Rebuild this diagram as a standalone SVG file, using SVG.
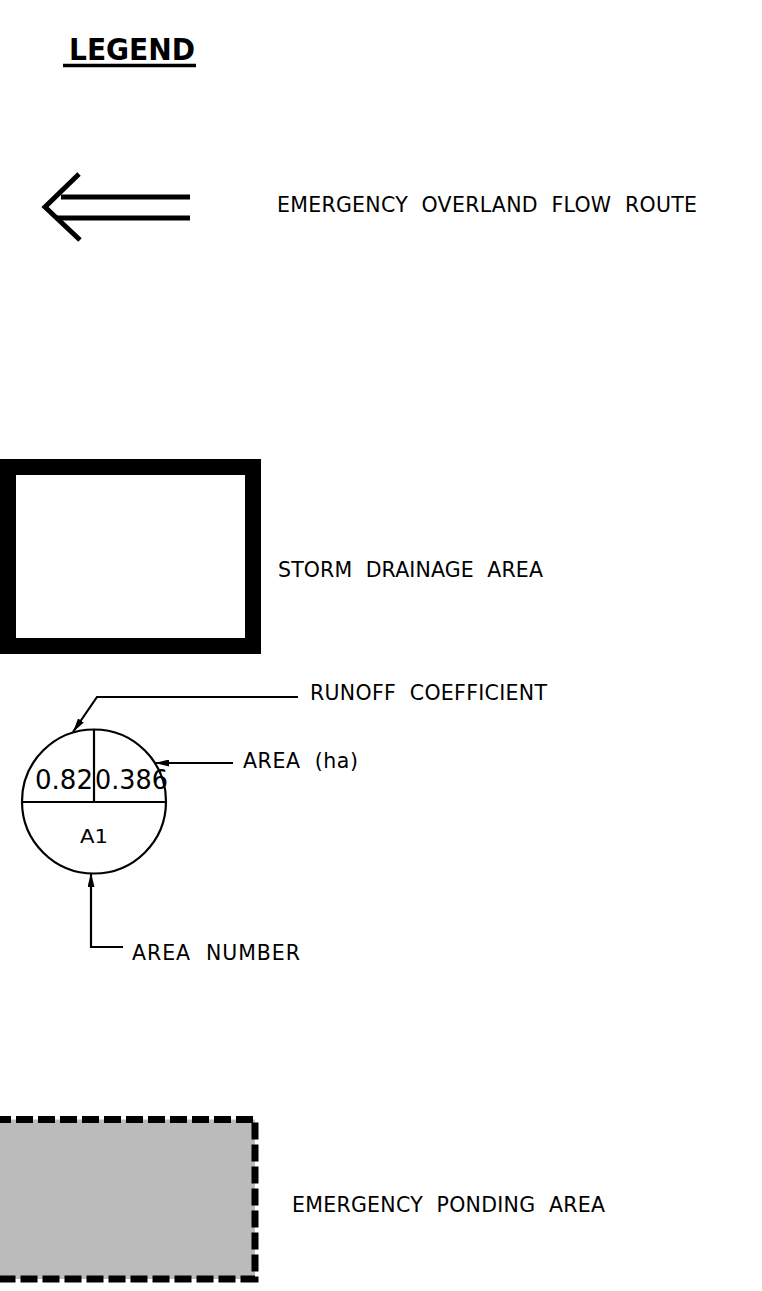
<svg xmlns="http://www.w3.org/2000/svg" width="762" height="1291" viewBox="0 0 762 1291" xml:space="preserve">
<style>
text{font-family:"DejaVu Sans","Liberation Sans",Arial,sans-serif;fill:#000;white-space:pre}
.lbl{font-size:20.5px}
.ln{stroke:#000;stroke-width:2.2;fill:none}
</style>
<defs>
<marker id="ah" viewBox="0 0 14 7" refX="14" refY="3.5" markerWidth="14" markerHeight="7" markerUnits="userSpaceOnUse" orient="auto">
<path d="M0,0 L14,3.5 L0,7 Z" fill="#000"/>
</marker>
</defs>
<rect width="762" height="1291" fill="#fff"/>
<g id="title">
<text x="69" y="60" font-size="31" font-weight="bold" textLength="126" lengthAdjust="spacingAndGlyphs">LEGEND</text>
<line x1="63" y1="65.5" x2="196" y2="65.5" stroke="#000" stroke-width="3.5"/>
</g>
<g id="flow-route">
<polyline points="79,174 45,207 80,240" fill="none" stroke="#000" stroke-width="5" stroke-linejoin="miter"/>
<line x1="61" y1="197" x2="190" y2="197" stroke="#000" stroke-width="5"/>
<line x1="57" y1="218" x2="190" y2="218" stroke="#000" stroke-width="5"/>
<text class="lbl" x="277" y="212" textLength="420" lengthAdjust="spacing">EMERGENCY  OVERLAND  FLOW  ROUTE</text>
</g>
<g id="storm-drainage">
<rect x="8" y="467" width="245" height="179" fill="#fff" stroke="#000" stroke-width="16"/>
<text class="lbl" x="278" y="577" textLength="265" lengthAdjust="spacing">STORM  DRAINAGE  AREA</text>
</g>
<g id="area-symbol">
<circle cx="94" cy="801.5" r="72" fill="none" stroke="#000" stroke-width="2.2"/>
<line x1="22" y1="802" x2="166" y2="802" class="ln"/>
<line x1="94" y1="730" x2="94" y2="802" class="ln"/>
<text x="35" y="789" font-size="26" textLength="58" lengthAdjust="spacingAndGlyphs">0.82</text>
<text x="95" y="789" font-size="26" textLength="73" lengthAdjust="spacingAndGlyphs">0.386</text>
<text x="80" y="843" font-size="20" textLength="28" lengthAdjust="spacingAndGlyphs">A1</text>
</g>
<g id="connectors">
<polyline points="298,697 97,697 73,732" class="ln" marker-end="url(#ah)"/>
<line x1="233" y1="763" x2="155" y2="763" class="ln" marker-end="url(#ah)"/>
<polyline points="123,947 91,947 91,873" class="ln" marker-end="url(#ah)"/>
</g>
<g id="labels">
<text class="lbl" x="310" y="700" textLength="237" lengthAdjust="spacing">RUNOFF  COEFFICIENT</text>
<text class="lbl" x="243" y="768" textLength="115" lengthAdjust="spacing">AREA  (ha)</text>
<text class="lbl" x="132" y="960" textLength="168" lengthAdjust="spacing">AREA  NUMBER</text>
</g>
<g id="ponding">
<rect x="-6" y="1119.5" width="261" height="159.5" fill="#bbbbbb" stroke="#000" stroke-width="7" stroke-dasharray="17 5"/>
<text class="lbl" x="292" y="1212" textLength="313" lengthAdjust="spacing">EMERGENCY  PONDING  AREA</text>
</g>
</svg>
